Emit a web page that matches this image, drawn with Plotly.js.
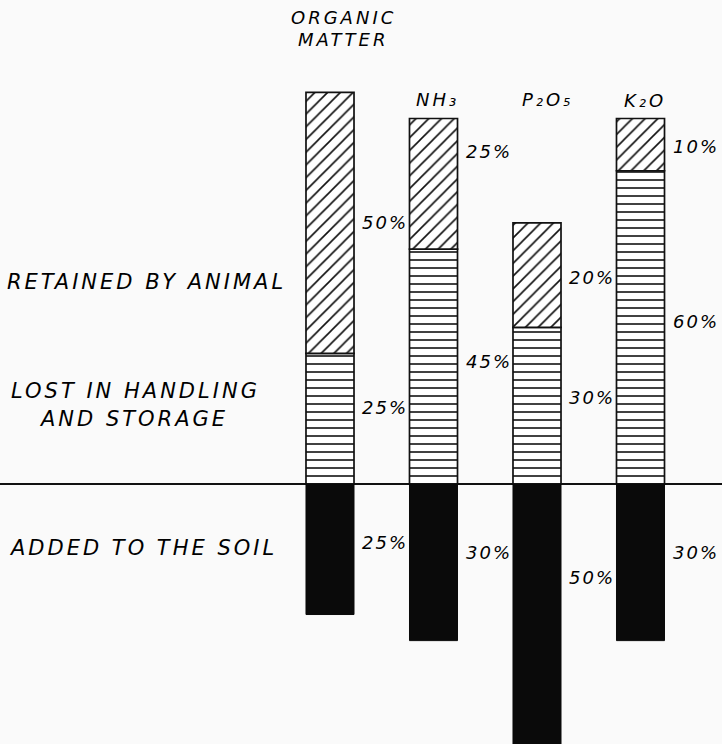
<!DOCTYPE html>
<html>
<head>
<meta charset="utf-8">
<script src="https://cdn.plot.ly/plotly-3.0.1.min.js"></script>
<style>
html,body{margin:0;padding:0;background:#fafafa;}
#chart{width:722px;height:744px;}
</style>
</head>
<body>
<div id="chart"></div>
<script>
// ---- data ----
var categories = ["ORGANIC MATTER", "NH₃", "P₂O₅", "K₂O"];
var categoryLines = [["ORGANIC", "MATTER"], ["NH₃"], ["P₂O₅"], ["K₂O"]];
var retainedByAnimal = [50, 25, 20, 10];
var lostInHandling = [25, 45, 30, 60];
var addedToSoil = [25, 30, 50, 30];
var rowLabels = ["RETAINED BY ANIMAL", "LOST IN HANDLING", "AND STORAGE", "ADDED TO THE SOIL"];

// ---- layout constants ----
var FONT = "DejaVu Sans";
var barWidth = 0.464;
var idx = categories.map(function (c, i) { return i; });
function ls(t, px) { return '<span style="letter-spacing:' + px + 'px">' + t + '</span>'; }

var outline = {color: "#111", width: 1.7};
var traces = [
  {
    type: "bar", name: "Lost", x: idx, y: lostInHandling, width: barWidth,
    marker: {color: "#ffffff", line: outline,
      pattern: {shape: "-", fgcolor: "#111", bgcolor: "#ffffff", size: 8, solidity: 0.2}},
    hoverinfo: "skip"
  },
  {
    type: "bar", name: "Retained", x: idx, y: retainedByAnimal, width: barWidth,
    marker: {color: "#ffffff", line: outline,
      pattern: {shape: "/", fgcolor: "#111", bgcolor: "#ffffff", size: 9, solidity: 0.18}},
    hoverinfo: "skip"
  },
  {
    type: "bar", name: "Added", x: idx, y: addedToSoil.map(function (v) { return -v; }), width: barWidth,
    marker: {color: "#0a0a0a", line: {color: "#0a0a0a", width: 1}},
    hoverinfo: "skip"
  }
];

var pctFont = {family: FONT, size: 18, color: "#000", style: "italic"};
var annotations = [];

// category labels on top (pixel y of each line)
var catShift = [13, 4, 10, 4];
var catY = [[18, 40], [99], [99], [100]];
categoryLines.forEach(function (lines, i) {
  lines.forEach(function (t, k) {
    annotations.push({
      xref: "x", yref: "paper", x: i, y: 1 - catY[i][k] / 744, xshift: catShift[i],
      text: ls(t, 3), showarrow: false, xanchor: "center", yanchor: "middle",
      font: {family: FONT, size: 18, color: "#000", style: "italic"}
    });
  });
});

// percentage labels next to bars (vertical nudges in px, + = up)
var shiftRet = [0, 32, -2, -2];
var shiftLost = [11, 5, 8, 6];
var shiftAdd = [7, 10, 37, 10];
idx.forEach(function (i) {
  var l = lostInHandling[i], r = retainedByAnimal[i], a = addedToSoil[i];
  var xs = i + barWidth / 2;
  annotations.push({x: xs, y: l + r / 2, yshift: shiftRet[i], xshift: 6, text: ls(r + "%", 2),
    showarrow: false, xanchor: "left", yanchor: "middle", font: pctFont});
  annotations.push({x: xs, y: l / 2, yshift: shiftLost[i], xshift: 6, text: ls(l + "%", 2),
    showarrow: false, xanchor: "left", yanchor: "middle", font: pctFont});
  annotations.push({x: xs, y: -a / 2, yshift: shiftAdd[i], xshift: 6, text: ls(a + "%", 2),
    showarrow: false, xanchor: "left", yanchor: "middle", font: pctFont});
});

// row labels on the left
var rowPos = [{x: 5, y: 282}, {x: 9, y: 391}, {x: 37, y: 419}, {x: 7, y: 548}];
rowLabels.forEach(function (t, i) {
  annotations.push({
    xref: "paper", yref: "paper", x: rowPos[i].x / 722, y: 1 - rowPos[i].y / 744,
    text: ls(t, 3), showarrow: false, xanchor: "left", yanchor: "middle",
    font: {family: FONT, size: 21, color: "#000", style: "italic"}
  });
});

var pxPerUnit = 103.5, firstCenter = 330;
var layout = {
  width: 722, height: 744,
  margin: {l: 0, r: 0, t: 0, b: 0},
  paper_bgcolor: "#fafafa", plot_bgcolor: "#fafafa",
  showlegend: false, barmode: "relative",
  xaxis: {range: [-firstCenter / pxPerUnit, (722 - firstCenter) / pxPerUnit], visible: false, fixedrange: true},
  yaxis: {range: [-49.8, 92.7], visible: false, fixedrange: true, zeroline: false},
  shapes: [{type: "line", xref: "paper", yref: "y", x0: 0, x1: 1, y0: 0, y1: 0,
    line: {color: "#111", width: 2}, layer: "below"}],
  annotations: annotations
};

Plotly.newPlot("chart", traces, layout, {staticPlot: true, displayModeBar: false});
</script>
</body>
</html>
